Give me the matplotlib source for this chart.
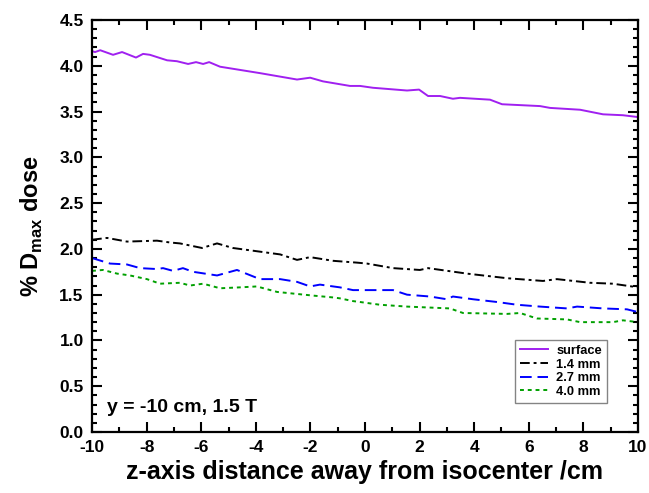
import matplotlib
matplotlib.use('Agg')
import matplotlib.pyplot as plt
from matplotlib.ticker import MultipleLocator

plt.rcParams['font.family'] = ['Liberation Sans', 'DejaVu Sans']
plt.rcParams['font.weight'] = 'bold'
plt.rcParams['axes.unicode_minus'] = False
plt.rcParams['mathtext.fontset'] = 'custom'
plt.rcParams['mathtext.bf'] = 'Liberation Sans:bold'
plt.rcParams['mathtext.rm'] = 'Liberation Sans:bold'

# surface
z_surf = [-10, -9.89, -9.7, -9.23, -8.9, -8.39, -8.13, -7.88, -7.25, -6.89, -6.48, -6.19,
          -5.93, -5.71, -5.31, -3.85, -2.49, -2.01, -1.54, -0.55, -0.18, 0.29, 1.54,
          1.98, 2.31, 2.75, 3.22, 3.48, 4.58, 5.02, 6.41, 6.78, 7.88, 8.72, 9.45, 10]
d_surf = [4.16, 4.15, 4.17, 4.12, 4.15, 4.09, 4.13, 4.12, 4.06, 4.05, 4.02, 4.04,
          4.02, 4.04, 3.99, 3.92, 3.85, 3.87, 3.83, 3.78, 3.78, 3.76, 3.73,
          3.74, 3.67, 3.67, 3.64, 3.65, 3.63, 3.58, 3.56, 3.54, 3.52, 3.47, 3.46, 3.44]

# 1.4 mm
z_14 = [-10, -9.45, -8.72, -7.62, -7.14, -6.78, -5.97, -5.42, -4.84, -3.85, -3.11,
        -2.49, -2.01, -1.17, -0.29, 0.07, 1.03, 2.01, 2.31, 3.74, 5.2, 6.52, 7.03,
        8.24, 9.08, 10]
d_14 = [2.10, 2.12, 2.08, 2.09, 2.07, 2.06, 2.01, 2.06, 2.01, 1.97, 1.94,
        1.88, 1.91, 1.87, 1.85, 1.84, 1.79, 1.77, 1.79, 1.73, 1.68, 1.65, 1.67,
        1.63, 1.62, 1.58]

# 2.7 mm
z_27 = [-10, -9.34, -8.72, -8.24, -7.62, -7.40, -7.03, -6.67, -6.30, -5.42, -4.69,
        -3.85, -3.11, -2.49, -2.01, -1.65, -0.92, -0.44, 1.03, 1.54, 2.38, 3.0,
        3.22, 3.96, 4.84, 5.57, 6.41, 7.40, 7.77, 8.72, 9.60, 10]
d_27 = [1.90, 1.84, 1.83, 1.79, 1.78, 1.79, 1.76, 1.79, 1.75, 1.71, 1.77,
        1.67, 1.67, 1.64, 1.59, 1.61, 1.58, 1.55, 1.55, 1.50, 1.48, 1.45,
        1.48, 1.45, 1.42, 1.39, 1.37, 1.35, 1.37, 1.35, 1.34, 1.31]

# 4.0 mm
z_40 = [-10, -9.60, -9.08, -8.61, -7.99, -7.51, -6.78, -6.41, -5.93, -5.31, -4.58,
        -3.96, -3.22, -1.90, -1.17, -0.92, -0.44, -0.18, 0.55, 1.54, 3.11, 3.59,
        5.20, 5.68, 6.30, 7.40, 7.88, 9.08, 9.45, 10]
d_40 = [1.76, 1.77, 1.73, 1.71, 1.67, 1.62, 1.63, 1.60, 1.62, 1.57, 1.58,
        1.59, 1.53, 1.49, 1.47, 1.46, 1.43, 1.42, 1.39, 1.37, 1.35, 1.30,
        1.29, 1.30, 1.24, 1.23, 1.20, 1.20, 1.22, 1.20]

fig = plt.figure(figsize=(6.49, 4.93), dpi=100)
ax = fig.add_axes([0.1418, 0.1237, 0.8412, 0.8357])

ax.plot(z_surf, d_surf, color='#a020f0', lw=1.4, label='surface')
ax.plot(z_14, d_14, color='black', lw=1.4, ls=(0, (5, 2, 1.5, 2)), label='1.4 mm')
ax.plot(z_27, d_27, color='#0000ff', lw=1.4, ls=(0, (6, 3)), label='2.7 mm')
ax.plot(z_40, d_40, color='#00a000', lw=1.4, ls=(0, (2, 2)), label='4.0 mm')

ax.set_xlim(-10, 10)
ax.set_ylim(0, 4.5)
ax.xaxis.set_major_locator(MultipleLocator(2))
ax.xaxis.set_minor_locator(MultipleLocator(1))
ax.yaxis.set_major_locator(MultipleLocator(0.5))
ax.yaxis.set_minor_locator(MultipleLocator(0.1))
ax.yaxis.set_major_formatter(plt.FormatStrFormatter('%.1f'))
ax.tick_params(which='both', direction='in', top=True, right=True, width=1.5,
               labelsize=12.5, pad=6)
ax.tick_params(which='major', length=7)
ax.tick_params(which='minor', length=3.5)
for s in ax.spines.values():
    s.set_linewidth(1.6)

ax.set_xlabel('z-axis distance away from isocenter /cm', fontsize=18, fontweight='bold',
              labelpad=3)
ax.set_ylabel(r'% D$_{\mathbf{max}}$ dose', fontsize=17, fontweight='bold', labelpad=10)

ax.text(-9.45, 0.27, 'y = -10 cm, 1.5 T', fontsize=14, fontweight='bold', va='center')

leg = ax.legend(loc='lower right', bbox_to_anchor=(0.955, 0.055), fontsize=9.3,
                frameon=True, fancybox=False, handlelength=2.2, labelspacing=0.12,
                borderpad=0.4, handletextpad=0.6)
leg.get_frame().set_edgecolor('#666666')
leg.get_frame().set_linewidth(1.0)

fig.savefig('out.png', dpi=100)
